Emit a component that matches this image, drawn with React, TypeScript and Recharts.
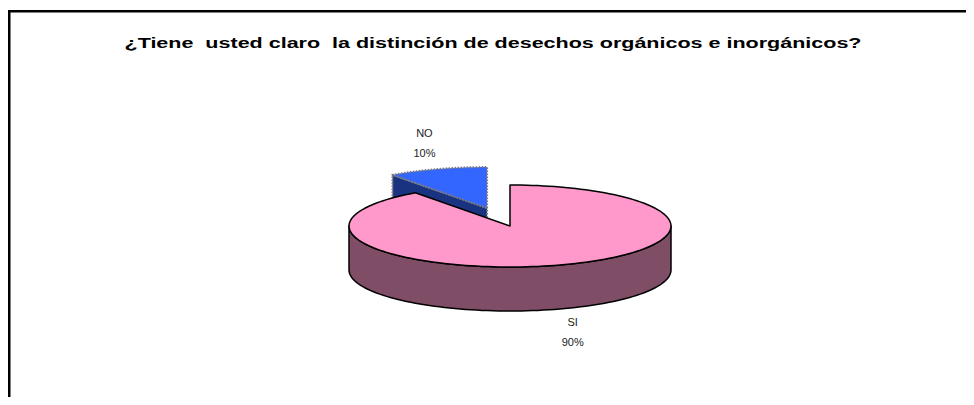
import { PieChart, Pie } from 'recharts';

const title = '¿Tiene  usted claro  la distinción de desechos orgánicos e inorgánicos?';
const categories = ['NO', 'SI'];
const values = [10, 90];
const percentLabels = ['10%', '90%'];

const topColors = ['#3366FF', '#FF99CC'];
const sideColors = ['#1A3380', '#804D66'];
const outlineColors = ['#7a7a7a', '#000000'];

const data = categories.map((name, i) => ({ name, value: values[i] }));

const W = 958;
const H = 389;
const TILT = 41 / 161; // vertical squash of the 3d disc
const DEPTH = 44;
const EXPLODE = [0.46, 0];
const FONT = '"Liberation Sans", Arial, sans-serif';

const rad = (a: number) => (a * Math.PI) / 180;

const pt = (cx: number, cy: number, rx: number, ry: number, a: number) => [
  cx + rx * Math.cos(rad(a)),
  cy - ry * Math.sin(rad(a)),
];

const arc = (cx: number, cy: number, rx: number, ry: number, a0: number, a1: number) => {
  const n = Math.max(2, Math.ceil(Math.abs(a1 - a0) / 2));
  const out: number[][] = [];
  for (let i = 0; i <= n; i++) out.push(pt(cx, cy, rx, ry, a0 + ((a1 - a0) * i) / n));
  return out;
};

const toPath = (pts: number[][]) =>
  pts.map((p, i) => `${i ? 'L' : 'M'}${p[0].toFixed(2)},${p[1].toFixed(2)}`).join(' ') + ' Z';

const renderSlice = (props: any) => {
  const { cx, cy, outerRadius, startAngle, endAngle, midAngle, index } = props;
  const rx = outerRadius;
  const ry = outerRadius * TILT;
  const k = EXPLODE[index] || 0;
  const ox = cx + k * rx * Math.cos(rad(midAngle));
  const oy = cy - k * ry * Math.sin(rad(midAngle));
  const a0 = Math.min(startAngle, endAngle);
  const a1 = Math.max(startAngle, endAngle);
  const stroke = outlineColors[index];
  const dash = index === 0 ? '1.5 1.5' : undefined;
  const sw = index === 0 ? 2 : 1.5;

  const walls: string[] = [];
  // radial walls that face the viewer
  if (Math.cos(rad(a1)) < -0.01) {
    const p = pt(ox, oy, rx, ry, a1);
    walls.push(toPath([[ox, oy], p, [p[0], p[1] + DEPTH], [ox, oy + DEPTH]]));
  }
  if (Math.cos(rad(a0)) > 0.01) {
    const p = pt(ox, oy, rx, ry, a0);
    walls.push(toPath([[ox, oy], p, [p[0], p[1] + DEPTH], [ox, oy + DEPTH]]));
  }
  // outer rim, front half only
  for (let j = -1; j <= 2; j++) {
    const s = Math.max(a0, 180 + 360 * j);
    const e = Math.min(a1, 360 + 360 * j);
    if (s < e) {
      const top = arc(ox, oy, rx, ry, s, e);
      const bottom = arc(ox, oy + DEPTH, rx, ry, e, s);
      walls.push(toPath([...top, ...bottom]));
    }
  }
  const face = toPath([[ox, oy], ...arc(ox, oy, rx, ry, a0, a1)]);

  const m = rad(midAngle);
  const lx = ox + 1.26 * rx * Math.cos(m);
  const ly = oy - 1.63 * ry * Math.sin(m) + (Math.sin(m) < 0 ? DEPTH : 0);

  return (
    <g key={`slice-${index}`}>
      {walls.map((d, i) => (
        <path key={i} d={d} fill={sideColors[index]} stroke={stroke} strokeWidth={sw} strokeDasharray={dash} strokeLinejoin="round" />
      ))}
      <path d={face} fill={topColors[index]} stroke={stroke} strokeWidth={sw} strokeDasharray={dash} strokeLinejoin="round" />
      <text x={lx} y={ly - 10} textAnchor="middle" dominantBaseline="middle" fontSize={11} fontFamily={FONT} fill="#222">
        {categories[index]}
      </text>
      <text x={lx} y={ly + 10} textAnchor="middle" dominantBaseline="middle" fontSize={11} fontFamily={FONT} fill="#222">
        {percentLabels[index]}
      </text>
    </g>
  );
};

export default function App() {
  return (
    <div style={{ position: 'relative', width: W, height: H, overflow: 'hidden', background: '#fff' }}>
      <svg width={W} height={H} style={{ position: 'absolute', left: 0, top: 0 }}>
        <rect x={1.25} y={3.25} width={2000} height={2000} fill="none" stroke="#000" strokeWidth={2.5} />
        <text
          x={485}
          y={40}
          textAnchor="middle"
          fontSize={14.5}
          fontWeight="bold"
          fontFamily={FONT}
          fill="#000"
          textLength={737}
          lengthAdjust="spacingAndGlyphs"
          style={{ whiteSpace: 'pre' }}
        >
          {title}
        </text>
      </svg>
      <div style={{ position: 'absolute', left: 0, top: 0 }}>
        <PieChart width={W} height={H} margin={{ top: 0, right: 0, bottom: 0, left: 0 }}>
          <Pie
            data={data}
            dataKey="value"
            nameKey="name"
            cx={502}
            cy={218}
            outerRadius={161}
            startAngle={90}
            endAngle={450}
            fill="none"
            stroke="none"
            label={renderSlice}
            labelLine={false}
            isAnimationActive={false}
          />
        </PieChart>
      </div>
    </div>
  );
}
